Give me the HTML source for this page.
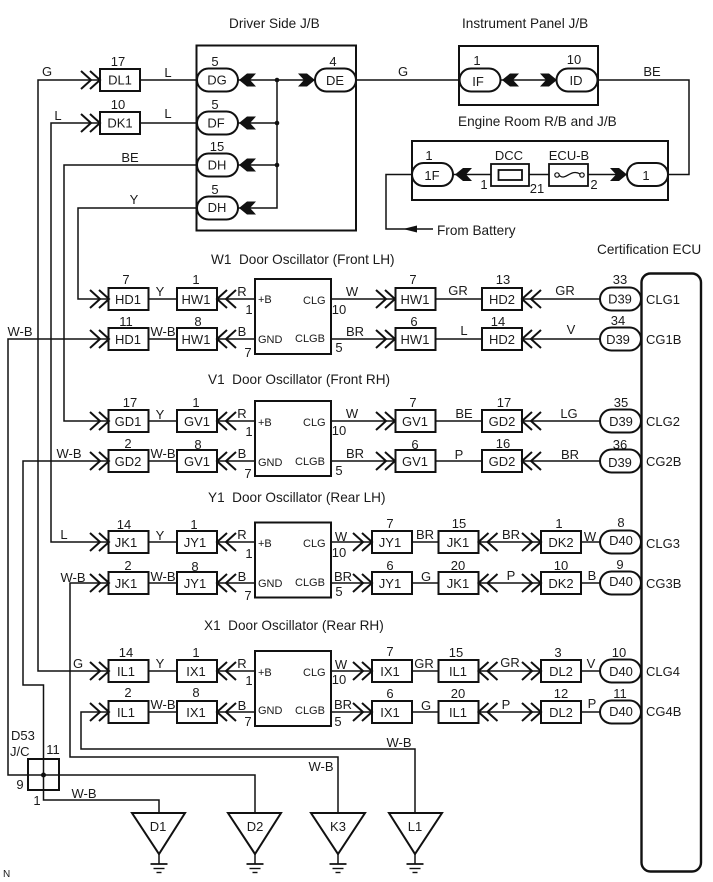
<!DOCTYPE html>
<html><head><meta charset="utf-8"><title>Diagram</title>
<style>
html,body{margin:0;padding:0;background:#fff}
svg{display:block}
text{font-family:"Liberation Sans",sans-serif;font-size:13px;fill:#1a1a1a;stroke:none}
.m{text-anchor:middle}
.t{font-size:13.6px}
.s{font-size:11px}
</style></head><body>
<svg width="713" height="882" viewBox="0 0 713 882" xmlns="http://www.w3.org/2000/svg">
<defs>
<path id="cr" d="M-10,-9L0,0L-10,9M-19,-9L-9,0L-19,9" fill="none" stroke="#111" stroke-width="2"/>
<path id="cl" d="M10,-9L0,0L10,9M19,-9L9,0L19,9" fill="none" stroke="#111" stroke-width="2"/>
<path id="fl" d="M0,0L8,-6.5L17,-6.5L11,0L17,6.5L8,6.5Z" fill="#111"/>
<path id="fr" d="M0,0L-8,-6.5L-17,-6.5L-11,0L-17,6.5L-8,6.5Z" fill="#111"/>
<rect id="b" x="-20" y="-11" width="40" height="22" fill="#fff" stroke="#111" stroke-width="2"/>
<rect id="p" x="-20.5" y="-11.5" width="41" height="23" rx="11.5" ry="11.5" fill="#fff" stroke="#111" stroke-width="2"/>
<g id="gnd" stroke="#111" fill="none">
<path d="M0,0V10" stroke-width="1.5"/><path d="M-8.5,10H8.5" stroke-width="1.7"/><path d="M-5.5,14.5H5.5" stroke-width="1.4"/><path d="M-2.5,18.5H2.5" stroke-width="1.4"/>
</g>
</defs>

<!-- wires -->
<g fill="none" stroke="#111" stroke-width="1.5">
<path d="M140,80H38V671H255"/>
<path d="M140,123H51V542H255"/>
<path d="M196,165H64V421H255"/>
<path d="M196,208H78V299H255"/>
<path d="M255,339H8V775H255V812"/>
<path d="M255,461H23V685H43.5V800H159V812"/>
<path d="M255,583H70V757H338V812"/>
<path d="M255,712H81V749H415V812"/>
<path d="M140,80H197M140,123H197"/>
<path d="M238,80H315M238,123H277M238,165H277M238,208H277V80"/>
<path d="M356,80H460M500,80H557M597,80H689V174.5H668"/>
<path d="M453,174.5H627"/>
<path d="M412,174.5H386V229H433"/>
<path d="M331,299H600M331,339H600M331,421H600M331,461H600M331,542H600M331,583H600M331,671H600M331,712H600"/>
</g>
<circle cx="277" cy="80" r="2.3" fill="#111"/>
<circle cx="277" cy="123" r="2.3" fill="#111"/>
<circle cx="277" cy="165" r="2.3" fill="#111"/>
<circle cx="43.5" cy="775" r="2.5" fill="#111"/>
<path d="M403,229L417,225.5V232.5Z" fill="#111"/>

<!-- J/B boxes -->
<g fill="none" stroke="#111" stroke-width="2">
<rect x="196.5" y="45.5" width="159.5" height="185"/>
<rect x="459" y="46" width="139" height="59"/>
<rect x="412" y="141" width="256" height="59"/>
<rect x="641.5" y="273.5" width="59.5" height="598" rx="9" ry="9" stroke-width="2.4"/>
<rect x="28" y="759" width="31" height="31"/>
</g>

<!-- fuses -->
<rect x="491" y="164" width="38" height="22" fill="#fff" stroke="#111" stroke-width="1.8"/>
<rect x="498.5" y="170" width="23.5" height="10" fill="#fff" stroke="#111" stroke-width="1.8"/>
<rect x="549" y="164" width="39" height="22" fill="#fff" stroke="#111" stroke-width="1.8"/>
<path d="M559,175C565,182 571,168 580,174" fill="none" stroke="#111" stroke-width="1.3"/>
<circle cx="557" cy="175" r="2.2" fill="#fff" stroke="#111" stroke-width="1.2"/>
<circle cx="582" cy="175" r="2.2" fill="#fff" stroke="#111" stroke-width="1.2"/>

<!-- osc boxes -->
<g fill="#fff" stroke="#111" stroke-width="2">
<rect x="255" y="279" width="76" height="75"/>
<rect x="255" y="401" width="76" height="75"/>
<rect x="255" y="522.5" width="76" height="75"/>
<rect x="255" y="651" width="76" height="75"/>
</g>

<!-- triangles -->
<g fill="#fff" stroke="#111" stroke-width="2">
<path d="M132,813H185L159,854Z"/>
<path d="M228,813H281L255,854Z"/>
<path d="M311,813H365L338,854Z"/>
<path d="M389,813H442L415,854Z"/>
</g>
<use href="#gnd" x="159" y="854"/><use href="#gnd" x="255" y="854"/><use href="#gnd" x="338" y="854"/><use href="#gnd" x="415" y="854"/>

<!-- pills -->
<use href="#p" x="217.5" y="80"/><use href="#p" x="217.5" y="123"/><use href="#p" x="217.5" y="165"/><use href="#p" x="217.5" y="208"/>
<use href="#p" x="335.5" y="80"/><use href="#p" x="480" y="80"/><use href="#p" x="577" y="80"/>
<use href="#p" x="432.5" y="174.5"/><use href="#p" x="647.5" y="174.5"/>
<use href="#p" x="620.5" y="299"/><use href="#p" x="620.5" y="339"/><use href="#p" x="620.5" y="421"/><use href="#p" x="620.5" y="461"/>
<use href="#p" x="620.5" y="542"/><use href="#p" x="620.5" y="583"/><use href="#p" x="620.5" y="671"/><use href="#p" x="620.5" y="712"/>

<!-- boxes top -->
<use href="#b" x="120" y="80"/><use href="#b" x="120" y="123"/>
<!-- boxes rows -->
<use href="#b" x="128.5" y="299"/><use href="#b" x="197" y="299"/><use href="#b" x="415.5" y="299"/><use href="#b" x="502" y="299"/>
<use href="#b" x="128.5" y="339"/><use href="#b" x="197" y="339"/><use href="#b" x="415.5" y="339"/><use href="#b" x="502" y="339"/>
<use href="#b" x="128.5" y="421"/><use href="#b" x="197" y="421"/><use href="#b" x="415.5" y="421"/><use href="#b" x="502" y="421"/>
<use href="#b" x="128.5" y="461"/><use href="#b" x="197" y="461"/><use href="#b" x="415.5" y="461"/><use href="#b" x="502" y="461"/>
<use href="#b" x="128.5" y="542"/><use href="#b" x="197" y="542"/><use href="#b" x="392" y="542"/><use href="#b" x="458.5" y="542"/><use href="#b" x="561" y="542"/>
<use href="#b" x="128.5" y="583"/><use href="#b" x="197" y="583"/><use href="#b" x="392" y="583"/><use href="#b" x="458.5" y="583"/><use href="#b" x="561" y="583"/>
<use href="#b" x="128.5" y="671"/><use href="#b" x="197" y="671"/><use href="#b" x="392" y="671"/><use href="#b" x="458.5" y="671"/><use href="#b" x="561" y="671"/>
<use href="#b" x="128.5" y="712"/><use href="#b" x="197" y="712"/><use href="#b" x="392" y="712"/><use href="#b" x="458.5" y="712"/><use href="#b" x="561" y="712"/>

<!-- filled chevrons -->
<use href="#fl" x="239" y="80"/><use href="#fl" x="239" y="123"/><use href="#fl" x="239" y="165"/><use href="#fl" x="239" y="208"/>
<use href="#fr" x="315" y="80"/><use href="#fl" x="502" y="80"/><use href="#fr" x="557" y="80"/>
<use href="#fl" x="455" y="174.5"/><use href="#fr" x="627" y="174.5"/>

<!-- open chevrons -->
<use href="#cr" x="100" y="80"/><use href="#cr" x="100" y="123"/>
<use href="#cr" x="109" y="299"/><use href="#cl" x="217" y="299"/><use href="#cr" x="395" y="299"/><use href="#cl" x="522" y="299"/>
<use href="#cr" x="109" y="339"/><use href="#cl" x="217" y="339"/><use href="#cr" x="395" y="339"/><use href="#cl" x="522" y="339"/>
<use href="#cr" x="109" y="421"/><use href="#cl" x="217" y="421"/><use href="#cr" x="395" y="421"/><use href="#cl" x="522" y="421"/>
<use href="#cr" x="109" y="461"/><use href="#cl" x="217" y="461"/><use href="#cr" x="395" y="461"/><use href="#cl" x="522" y="461"/>
<use href="#cr" x="109" y="542"/><use href="#cl" x="217" y="542"/><use href="#cr" x="372" y="542"/><use href="#cl" x="478.5" y="542"/><use href="#cr" x="541" y="542"/>
<use href="#cr" x="109" y="583"/><use href="#cl" x="217" y="583"/><use href="#cr" x="372" y="583"/><use href="#cl" x="478.5" y="583"/><use href="#cr" x="541" y="583"/>
<use href="#cr" x="109" y="671"/><use href="#cl" x="217" y="671"/><use href="#cr" x="372" y="671"/><use href="#cl" x="478.5" y="671"/><use href="#cr" x="541" y="671"/>
<use href="#cr" x="109" y="712"/><use href="#cl" x="217" y="712"/><use href="#cr" x="372" y="712"/><use href="#cl" x="478.5" y="712"/><use href="#cr" x="541" y="712"/>

<!-- titles -->
<text class="t" x="229" y="28">Driver Side J/B</text>
<text class="t" x="462" y="28">Instrument Panel J/B</text>
<text class="t" x="458" y="126">Engine Room R/B and J/B</text>
<text class="t" x="597" y="254">Certification ECU</text>
<text class="t" x="211" y="264" xml:space="preserve">W1  Door Oscillator (Front LH)</text>
<text class="t" x="208" y="384" xml:space="preserve">V1  Door Oscillator (Front RH)</text>
<text class="t" x="208" y="502" xml:space="preserve">Y1  Door Oscillator (Rear LH)</text>
<text class="t" x="204" y="630" xml:space="preserve">X1  Door Oscillator (Rear RH)</text>
<text class="t" x="437" y="235">From Battery</text>

<g class="m" text-anchor="middle">
<!-- top section -->
<text x="118" y="66">17</text><text x="118" y="109">10</text>
<text x="47" y="76">G</text><text x="58" y="120">L</text>
<text x="168" y="77">L</text><text x="168" y="118">L</text>
<text x="130" y="162">BE</text><text x="134" y="204">Y</text>
<text x="120" y="84.5">DL1</text><text x="120" y="127.5">DK1</text>
<text x="215" y="66">5</text><text x="215" y="109">5</text><text x="217" y="151">15</text><text x="215" y="194">5</text><text x="333" y="66">4</text>
<text x="217" y="84.5">DG</text><text x="216" y="127.5">DF</text><text x="217" y="169.5">DH</text><text x="217" y="212">DH</text><text x="335" y="85">DE</text>
<text x="403" y="76">G</text><text x="652" y="76">BE</text>
<text x="477" y="65">1</text><text x="574" y="64">10</text>
<text x="478" y="86">IF</text><text x="576" y="85">ID</text>
<text x="429" y="160">1</text><text x="509" y="160">DCC</text><text x="569" y="160">ECU-B</text>
<text x="432" y="180">1F</text><text x="646" y="180">1</text>
<text x="484" y="189">1</text><text x="537" y="193">21</text><text x="594" y="189">2</text>

<!-- row 299 -->
<text x="126" y="284">7</text><text x="196" y="284">1</text><text x="413" y="284">7</text><text x="503" y="284">13</text><text x="620" y="284">33</text>
<text x="160" y="296">Y</text><text x="242" y="296">R</text><text x="352" y="296">W</text><text x="458" y="295">GR</text><text x="565" y="295">GR</text>
<text x="128" y="304">HD1</text><text x="196" y="304">HW1</text><text x="415" y="304">HW1</text><text x="502" y="304">HD2</text><text x="620" y="303.5">D39</text>
<!-- row 339 -->
<text x="126" y="326">11</text><text x="198" y="326">8</text><text x="414" y="326">6</text><text x="498" y="326">14</text><text x="618" y="325">34</text>
<text x="20" y="336">W-B</text><text x="163" y="336">W-B</text><text x="242" y="336">B</text><text x="355" y="336">BR</text><text x="464" y="335">L</text><text x="571" y="334">V</text>
<text x="128" y="344">HD1</text><text x="196" y="344">HW1</text><text x="415" y="344">HW1</text><text x="502" y="344">HD2</text><text x="618" y="344">D39</text>
<!-- row 421 -->
<text x="130" y="407">17</text><text x="196" y="407">1</text><text x="413" y="407">7</text><text x="504" y="407">17</text><text x="621" y="407">35</text>
<text x="160" y="419">Y</text><text x="242" y="418">R</text><text x="352" y="418">W</text><text x="464" y="418">BE</text><text x="569" y="418">LG</text>
<text x="128" y="426">GD1</text><text x="197" y="426">GV1</text><text x="415" y="426">GV1</text><text x="502" y="426">GD2</text><text x="621" y="426">D39</text>
<!-- row 461 -->
<text x="128" y="448">2</text><text x="198" y="449">8</text><text x="415" y="449">6</text><text x="503" y="448">16</text><text x="620" y="449">36</text>
<text x="69" y="458">W-B</text><text x="163" y="458">W-B</text><text x="242" y="458">B</text><text x="355" y="458">BR</text><text x="459" y="459">P</text><text x="570" y="459">BR</text>
<text x="128" y="466">GD2</text><text x="197" y="466">GV1</text><text x="415" y="466">GV1</text><text x="502" y="466">GD2</text><text x="620" y="467">D39</text>
<!-- row 542 -->
<text x="124" y="529">14</text><text x="194" y="529">1</text><text x="390" y="528">7</text><text x="459" y="528">15</text><text x="559" y="528">1</text><text x="621" y="527">8</text>
<text x="64" y="539">L</text><text x="160" y="540">Y</text><text x="242" y="539">R</text><text x="341" y="541">W</text><text x="425" y="539">BR</text><text x="511" y="539">BR</text><text x="590" y="541">W</text>
<text x="126" y="547">JK1</text><text x="195" y="547">JY1</text><text x="390" y="547">JY1</text><text x="458" y="547">JK1</text><text x="561" y="547">DK2</text><text x="621" y="545">D40</text>
<!-- row 583 -->
<text x="128" y="570">2</text><text x="195" y="571">8</text><text x="390" y="570">6</text><text x="458" y="570">20</text><text x="561" y="570">10</text><text x="620" y="569">9</text>
<text x="73" y="582">W-B</text><text x="163" y="581">W-B</text><text x="242" y="581">B</text><text x="343" y="581">BR</text><text x="426" y="581">G</text><text x="511" y="580">P</text><text x="592" y="580">B</text>
<text x="126" y="588">JK1</text><text x="195" y="588">JY1</text><text x="390" y="588">JY1</text><text x="458" y="588">JK1</text><text x="561" y="588">DK2</text><text x="621" y="586">D40</text>
<!-- row 671 -->
<text x="126" y="657">14</text><text x="196" y="657">1</text><text x="390" y="656">7</text><text x="456" y="657">15</text><text x="558" y="657">3</text><text x="619" y="657">10</text>
<text x="78" y="668">G</text><text x="160" y="668">Y</text><text x="242" y="668">R</text><text x="341" y="669">W</text><text x="424" y="668">GR</text><text x="510" y="667">GR</text><text x="591" y="668">V</text>
<text x="126" y="676">IL1</text><text x="196" y="676">IX1</text><text x="390" y="676">IX1</text><text x="458" y="676">IL1</text><text x="561" y="676">DL2</text><text x="621" y="676">D40</text>
<!-- row 712 -->
<text x="128" y="697">2</text><text x="196" y="697">8</text><text x="390" y="698">6</text><text x="458" y="698">20</text><text x="561" y="698">12</text><text x="620" y="698">11</text>
<text x="163" y="709">W-B</text><text x="242" y="710">B</text><text x="343" y="709">BR</text><text x="426" y="710">G</text><text x="506" y="709">P</text><text x="592" y="708">P</text>
<text x="126" y="717">IL1</text><text x="196" y="717">IX1</text><text x="390" y="717">IX1</text><text x="458" y="717">IL1</text><text x="561" y="717">DL2</text><text x="621" y="716">D40</text>

<!-- oscillator pins -->
<text x="249" y="314">1</text><text x="339" y="314">10</text><text x="248" y="357">7</text><text x="339" y="352">5</text>
<text x="249" y="436">1</text><text x="339" y="435">10</text><text x="248" y="478">7</text><text x="339" y="475">5</text>
<text x="249" y="558">1</text><text x="339" y="557">10</text><text x="248" y="600">7</text><text x="339" y="596">5</text>
<text x="249" y="685">1</text><text x="339" y="684">10</text><text x="248" y="726">7</text><text x="338" y="726">5</text>

<!-- ground -->
<text x="158" y="831">D1</text><text x="255" y="831">D2</text><text x="338" y="831">K3</text><text x="415" y="831">L1</text>
<text x="84" y="798">W-B</text><text x="321" y="771">W-B</text><text x="399" y="747">W-B</text>
<text x="53" y="754">11</text><text x="20" y="789">9</text><text x="37" y="805">1</text>
</g>

<g>
<text class="s" x="258" y="303">+B</text><text class="s" x="303" y="304">CLG</text><text class="s" x="258" y="343">GND</text><text class="s" x="295" y="342">CLGB</text>
<text class="s" x="258" y="426">+B</text><text class="s" x="303" y="426">CLG</text><text class="s" x="258" y="466">GND</text><text class="s" x="295" y="465">CLGB</text>
<text class="s" x="258" y="547">+B</text><text class="s" x="303" y="547">CLG</text><text class="s" x="258" y="587">GND</text><text class="s" x="295" y="586">CLGB</text>
<text class="s" x="258" y="676">+B</text><text class="s" x="303" y="676">CLG</text><text class="s" x="258" y="714">GND</text><text class="s" x="295" y="714">CLGB</text>
<text x="646" y="304">CLG1</text><text x="646" y="344">CG1B</text><text x="646" y="426">CLG2</text><text x="646" y="466">CG2B</text>
<text x="646" y="548">CLG3</text><text x="646" y="588">CG3B</text><text x="646" y="676">CLG4</text><text x="646" y="716">CG4B</text>
<text x="11" y="740">D53</text><text x="10" y="756">J/C</text>
<text x="3" y="877" style="font-size:10px">N</text>
</g>
</svg>
</body></html>
